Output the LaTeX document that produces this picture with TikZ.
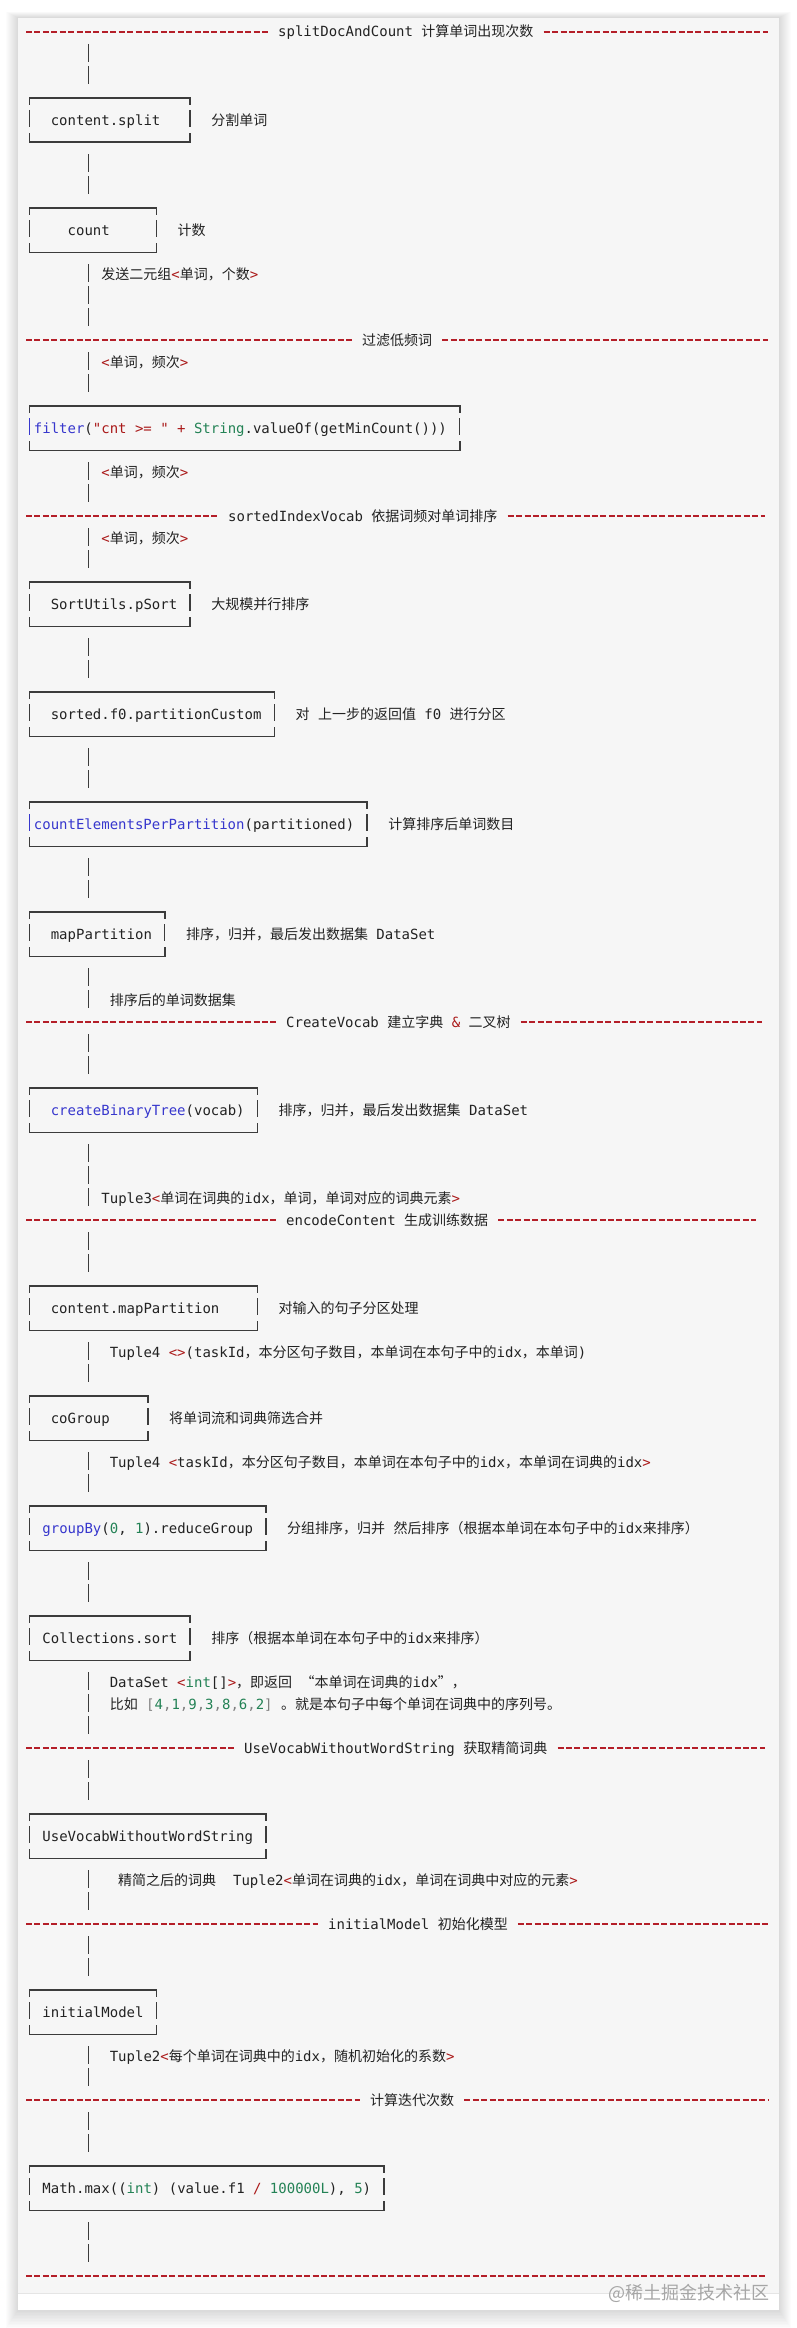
\documentclass[tikz,border=0pt]{standalone}
\usepackage{fontspec}
\setmainfont{DejaVu Sans Mono}[Ligatures=TeXOff, WordSpace={1,0,0}]
\newfontfamily\cjk{Noto Sans CJK SC}
\usetikzlibrary{positioning}

\definecolor{ink}{RGB}{34,34,34}
\definecolor{boxgray}{RGB}{60,60,60}
\definecolor{panel}{RGB}{246,246,246}
\definecolor{rulered}{RGB}{180,30,40}
\definecolor{kwblue}{RGB}{55,55,205}
\definecolor{strred}{RGB}{170,25,25}
\definecolor{numgreen}{RGB}{35,130,85}

\newcommand\codefont{\fontsize{14}{22}\selectfont\frenchspacing}
\newcommand\zh[1]{{\cjk #1}}
\newcommand\kw[1]{\textcolor{kwblue}{#1}}
\newcommand\sred[1]{\textcolor{strred}{#1}}
\newcommand\gnum[1]{\textcolor{numgreen}{#1}}

\tikzset{
  txt/.style={inner sep=0pt, text height=11pt, text depth=1pt, anchor=west, text=ink, font=\codefont},
  head/.style={txt, inner xsep=10pt},
  codebox/.style={txt, anchor=north west, minimum height=44pt, align=flush left},
  pad/.style={execute at begin node={\spaceskip 8.43pt\relax\xspaceskip 8.43pt\relax\noindent\hspace*{#1}}},
  boxline/.style={draw=boxgray, line width=1.8pt},
  sideline/.style={draw=boxgray, line width=1.3pt},
  link/.style={draw=boxgray, line width=1.3pt, dash pattern=on 18pt off 4pt, shorten <=12pt, shorten >=14pt},
  rule/.style={draw=rulered, line width=1.6pt, dash pattern=on 6pt off 2.43pt}
}

% broken ascii-like frame round a code box
\newcommand\drawframe[2][boxgray]{%
  \draw[boxline] ([yshift=-7pt]#2.north west) -- (#2.north west) -- (#2.north east) -- ([yshift=-7pt]#2.north east);
  \draw[boxline] ([yshift=9pt]#2.south west) -- (#2.south west) -- (#2.south east) -- ([yshift=9pt]#2.south east);
  \draw[sideline, draw=#1] ([yshift=-12pt]#2.north west) -- ([yshift=-29pt]#2.north west);
  \draw[sideline] ([yshift=-12pt]#2.north east) -- ([yshift=-29pt]#2.north east);
}

\begin{document}
\begin{tikzpicture}[x=1pt, y=-1pt]
\useasboundingbox (0,0) rectangle (797,2328);
\fill[white] (0,0) rectangle (797,2328);
\foreach \s in {1,...,12}
  \fill[black, opacity=0.012] (18-\s,18-0.5*\s) rectangle (779+\s,2310+1.5*\s);
\fill[panel] (18,18) rectangle (779,2293);
\fill[white] (18,2293) rectangle (779,2310);
\draw[black!10, line width=0.8pt] (18,2293) -- (779,2293);
\node[anchor=east, inner sep=0pt, text=black!35, font=\cjk\fontsize{18}{18}\selectfont] (mark) at (770,2293) {@稀土掘金技术社区};

\coordinate (spine) at (88.5,0);
\coordinate (tail) at (88.5,2276);

% headers
\node[head] (h1) at (268,32) {splitDocAndCount \zh{计算单词出现次数}};
\node[head] (h2) at (352,340) {\zh{过滤低频词}};
\node[head] (h3) at (218,516) {sortedIndexVocab \zh{依据词频对单词排序}};
\node[head] (h4) at (276,1022) {CreateVocab \zh{建立字典} \sred{\&} \zh{二叉树}};
\node[head] (h5) at (276,1220) {encodeContent \zh{生成训练数据}};
\node[head] (h6) at (234,1748) {UseVocabWithoutWordString \zh{获取精简词典}};
\node[head] (h7) at (318,1924) {initialModel \zh{初始化模型}};
\node[head] (h8) at (360,2100) {\zh{计算迭代次数}};
\draw[rule] (26,32) -- (h1.west); \draw[rule] (h1.east) -- (768,32);
\draw[rule] (26,340) -- (h2.west); \draw[rule] (h2.east) -- (768,340);
\draw[rule] (26,516) -- (h3.west); \draw[rule] (h3.east) -- (765,516);
\draw[rule] (26,1022) -- (h4.west); \draw[rule] (h4.east) -- (762,1022);
\draw[rule] (26,1220) -- (h5.west); \draw[rule] (h5.east) -- (756,1220);
\draw[rule] (26,1748) -- (h6.west); \draw[rule] (h6.east) -- (765,1748);
\draw[rule] (26,1924) -- (h7.west); \draw[rule] (h7.east) -- (768,1924);
\draw[rule] (26,2100) -- (h8.west); \draw[rule] (h8.east) -- (768,2100);
\draw[rule] (26,2276) -- (765,2276);

% code boxes
\node[codebox, pad=21.1pt, text width=160.2pt] (split) at (29.5,98) {content.split};
\node[codebox, pad=38pt, text width=126.5pt] (count) at (29.5,208) {count};
\node[codebox, pad=4.2pt, text width=429.9pt] (filter) at (29.5,406)
  {\kw{filter}(\sred{"cnt >= "} \sred{+} \gnum{String}.valueOf(getMinCount()))};
\node[codebox, pad=21.1pt, text width=160.2pt] (psort) at (29.5,582) {SortUtils.pSort};
\node[codebox, pad=21.1pt, text width=244.5pt] (partition) at (29.5,692) {sorted.f0.partitionCustom};
\node[codebox, pad=4.2pt, text width=337.2pt] (countel) at (29.5,802) {\kw{countElementsPerPartition}(partitioned)};
\node[codebox, pad=21.1pt, text width=134.9pt] (mappart) at (29.5,912) {mapPartition};
\node[codebox, pad=21.1pt, text width=227.6pt] (bintree) at (29.5,1088) {\kw{createBinaryTree}(vocab)};
\node[codebox, pad=21.1pt, text width=227.6pt] (cmap) at (29.5,1286) {content.mapPartition};
\node[codebox, pad=21.1pt, text width=118pt] (cogroup) at (29.5,1396) {coGroup};
\node[codebox, pad=12.7pt, text width=236pt] (groupby) at (29.5,1506) {\kw{groupBy}(\gnum{0}, \gnum{1}).reduceGroup};
\node[codebox, pad=12.7pt, text width=160.2pt] (csort) at (29.5,1616) {Collections.sort};
\node[codebox, pad=12.7pt, text width=236pt] (usevocab) at (29.5,1814) {UseVocabWithoutWordString};
\node[codebox, pad=12.7pt, text width=126.5pt] (initmodel) at (29.5,1990) {initialModel};
\node[codebox, pad=12.7pt, text width=354.1pt] (mathmax) at (29.5,2166)
  {Math.max((\gnum{int}) (value.f1 \sred{/} \gnum{100000L}), \gnum{5})};
\foreach \b in {split,count,psort,partition,mappart,bintree,cmap,cogroup,groupby,csort,usevocab,initmodel,mathmax}
  \drawframe{\b};
\drawframe[kwblue]{filter}
\drawframe[kwblue]{countel}

% notes beside the boxes
\node[txt, right=21pt of split] (splitnote) {\zh{分割单词}};
\node[txt, right=21pt of count] (countnote) {\zh{计数}};
\node[txt, right=21pt of psort] (psortnote) {\zh{大规模并行排序}};
\node[txt, right=21pt of partition] (partnote) {\zh{对} \zh{上一步的返回值} f0 \zh{进行分区}};
\node[txt, right=21pt of countel] (countelnote) {\zh{计算排序后单词数目}};
\node[txt, right=21pt of mappart] (mappartnote) {\zh{排序，归并，最后发出数据集} DataSet};
\node[txt, right=21pt of bintree] (bintreenote) {\zh{排序，归并，最后发出数据集} DataSet};
\node[txt, right=21pt of cmap] (cmapnote) {\zh{对输入的句子分区处理}};
\node[txt, right=21pt of cogroup] (cogroupnote) {\zh{将单词流和词典筛选合并}};
\node[txt, right=21pt of groupby] (groupbynote) {\zh{分组排序，归并} \zh{然后排序（根据本单词在本句子中的}idx\zh{来排序）}};
\node[txt, right=21pt of csort] (csortnote) {\zh{排序（根据本单词在本句子中的}idx\zh{来排序）}};

% links down the spine
\draw[link] (h1 -| spine) -- (split.north -| spine);
\draw[link] (split.south -| spine) -- (count.north -| spine);
\draw[link] (count.south -| spine) -- (h2 -| spine);
\draw[link] (h2 -| spine) -- (filter.north -| spine);
\draw[link] (filter.south -| spine) -- (h3 -| spine);
\draw[link] (h3 -| spine) -- (psort.north -| spine);
\draw[link] (psort.south -| spine) -- (partition.north -| spine);
\draw[link] (partition.south -| spine) -- (countel.north -| spine);
\draw[link] (countel.south -| spine) -- (mappart.north -| spine);
\draw[link] (mappart.south -| spine) -- (h4 -| spine);
\draw[link] (h4 -| spine) -- (bintree.north -| spine);
\draw[link] (bintree.south -| spine) -- (h5 -| spine);
\draw[link] (h5 -| spine) -- (cmap.north -| spine);
\draw[link] (cmap.south -| spine) -- (cogroup.north -| spine);
\draw[link] (cogroup.south -| spine) -- (groupby.north -| spine);
\draw[link] (groupby.south -| spine) -- (csort.north -| spine);
\draw[link] (csort.south -| spine) -- (h6 -| spine);
\draw[link] (h6 -| spine) -- (usevocab.north -| spine);
\draw[link] (usevocab.south -| spine) -- (h7 -| spine);
\draw[link] (h7 -| spine) -- (initmodel.north -| spine);
\draw[link] (initmodel.south -| spine) -- (h8 -| spine);
\draw[link] (h8 -| spine) -- (mathmax.north -| spine);
\draw[link] (mathmax.south -| spine) -- (tail);

% labels on the links
\node[txt] (pairs) at (101.2,274) {\zh{发送二元组}\sred{<}\zh{单词，个数}\sred{>}};
\node[txt] (freqa) at (101.2,362) {\sred{<}\zh{单词，频次}\sred{>}};
\node[txt] (freqb) at (101.2,472) {\sred{<}\zh{单词，频次}\sred{>}};
\node[txt] (freqc) at (101.2,538) {\sred{<}\zh{单词，频次}\sred{>}};
\node[txt] (sorted) at (109.6,1000) {\zh{排序后的单词数据集}};
\node[txt] (tuple3) at (101.2,1198) {Tuple3\sred{<}\zh{单词在词典的}idx\zh{，单词，单词对应的词典元素}\sred{>}};
\node[txt] (tuple4a) at (109.6,1352) {Tuple4 \sred{<>}(taskId\zh{，本分区句子数目，本单词在本句子中的}idx\zh{，本单词})};
\node[txt] (tuple4b) at (109.6,1462) {Tuple4 \sred{<}taskId\zh{，本分区句子数目，本单词在本句子中的}idx\zh{，本单词在词典的}idx\sred{>}};
\node[txt] (dataset) at (109.6,1682) {DataSet \sred{<}\gnum{int}[]\sred{>}\zh{，即返回} \zh{“本单词在词典的}idx\zh{”，}};
\node[txt] (example) at (109.6,1704) {\zh{比如} \textcolor{black!50}{[\gnum{4},\gnum{1},\gnum{9},\gnum{3},\gnum{8},\gnum{6},\gnum{2}]} \zh{。就是本句子中每个单词在词典中的序列号。}};
\node[txt] (tuple2a) at (118,1880) {\zh{精简之后的词典}\hspace{16.9pt}Tuple2\sred{<}\zh{单词在词典的}idx\zh{，单词在词典中对应的元素}\sred{>}};
\node[txt] (tuple2b) at (109.6,2056) {Tuple2\sred{<}\zh{每个单词在词典中的}idx\zh{，随机初始化的系数}\sred{>}};
\end{tikzpicture}
\end{document}
